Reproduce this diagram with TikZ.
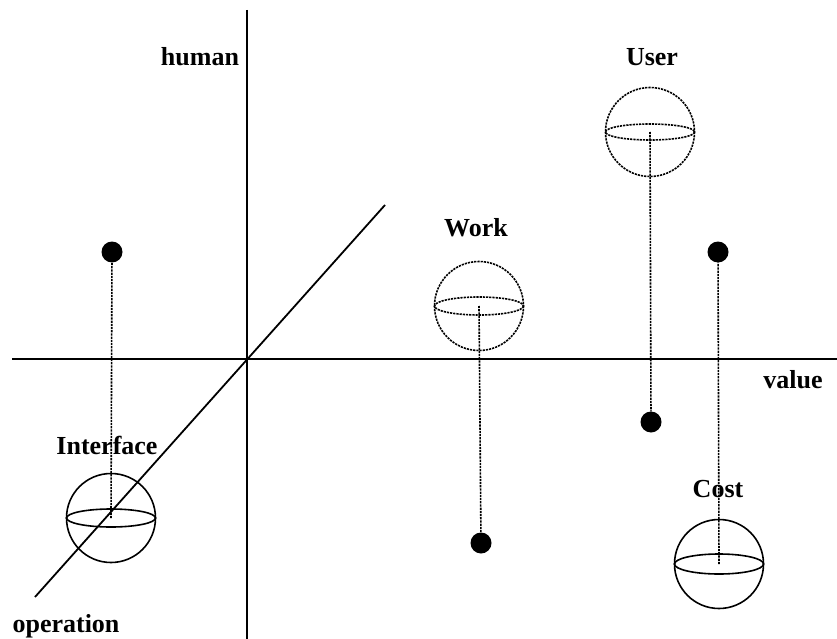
\documentclass[tikz,border=0pt]{standalone}
\usepackage{fontspec}
\setmainfont{Liberation Serif}
\begin{document}
\begin{tikzpicture}[x=1pt,y=-1pt,
  axis/.style={line width=1.8pt},
  shell/.style={line width=1.6pt},
  dotted shell/.style={line width=1.6pt,dash pattern=on 2.2pt off 1pt},
  drop/.style={line width=1.6pt,dash pattern=on 2.2pt off 1pt},
  ball/.style={circle,fill=black,inner sep=0pt,minimum size=21pt},
  lbl/.style={anchor=base,inner sep=0pt,font=\fontsize{26}{30}\selectfont\bfseries}]
\useasboundingbox (0,0) rectangle (837,639);

% axes
\coordinate (o) at (247,359);
\coordinate (vtop) at (247,10);
\coordinate (vbot) at (247,639);
\coordinate (hl) at (12,359);
\coordinate (hr) at (837,359);
\coordinate (dtop) at (385,205);
\coordinate (dbot) at (35,597);
\draw[axis] (vtop) -- (vbot);
\draw[axis] (hl) -- (hr);
\draw[axis] (dbot) -- (dtop);

% axis labels
\node[lbl] (human) at (200,66) {human};
\node[lbl] (value) at (793,388) {value};
\node[lbl] (operation) at (66,632) {operation};

% sphere centres
\coordinate (cwork) at (479,306);
\coordinate (cuser) at (650,132);
\coordinate (cinter) at (111,518);
\coordinate (ccost) at (719,564);

% spheres
\draw[dotted shell] (cwork) circle[radius=44.5];
\draw[dotted shell] (cwork) ellipse[x radius=44.5,y radius=9];
\draw[dotted shell] (cuser) circle[radius=44.5];
\draw[dotted shell] (cuser) ellipse[x radius=44.5,y radius=8];
\draw[shell] (cinter) circle[radius=44.5];
\draw[shell] (cinter) ellipse[x radius=44.5,y radius=9];
\draw[shell] (ccost) circle[radius=44.5];
\draw[shell] (ccost) ellipse[x radius=44.5,y radius=10];

% projection points
\node[ball] (pwork) at (481,543) {};
\node[ball] (puser) at (651,422) {};
\node[ball] (pinter) at (112,252) {};
\node[ball] (pcost) at (718,252) {};

% drop lines
\draw[drop] (cwork) -- (pwork);
\draw[drop] (cuser) -- (puser);
\draw[drop] (cinter) -- (pinter);
\draw[drop] (ccost) -- (pcost);

% sphere labels
\node[lbl] (lwork) at (476,236) {Work};
\node[lbl] (luser) at (652,66) {User};
\node[lbl] (linter) at (107,454) {Interface};
\node[lbl] (lcost) at (718,497) {Cost};
\end{tikzpicture}
\end{document}
